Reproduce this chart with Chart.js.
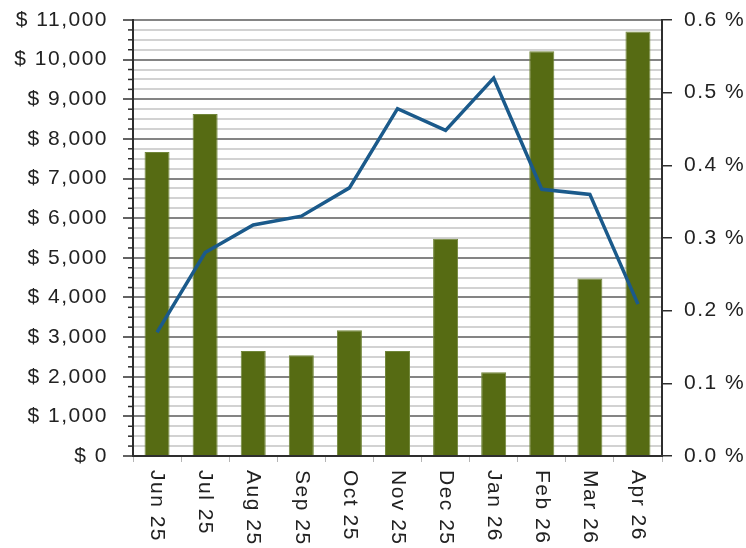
<!DOCTYPE html>
<html lang="en">
<head>
<meta charset="utf-8">
<title>Chart</title>
<script src="https://cdn.jsdelivr.net/npm/chart.js@4"></script>
<style>
  html, body { margin: 0; padding: 0; background: #fff; }
  #chart-wrap { width: 746px; height: 548px; }
</style>
</head>
<body>
<div id="chart-wrap"><canvas id="chart"></canvas></div>
<script>
// 月ラベル
const monthLabels = ['Jun 25', 'Jul 25', 'Aug 25', 'Sep 25', 'Oct 25', 'Nov 25',
  'Dec 25', 'Jan 26', 'Feb 26', 'Mar 26', 'Apr 26'];
// 金額（棒グラフ, $）
const amountValues = [7670, 8630, 2650, 2540, 3170, 2650, 5480, 2110, 10210, 4480, 10710];
// 比率（折れ線, %）
const rateValues = [0.170, 0.280, 0.318, 0.330, 0.369, 0.478, 0.448, 0.520, 0.367, 0.360, 0.209];
// 軸の範囲と目盛
const amountMax = 11000;
const amountMinorStep = 250;
const amountMajorStep = 1000;
const rateMax = 0.6;
const rateStep = 0.1;

(function() {
  'use strict';
  const chartContext = document.getElementById('chart').getContext('2d');
  const fontFamily = "'Liberation Sans', Arial, sans-serif";
  const fontSize = 21;
  const textColor = '#222222';
  const axisColor = '#2e2e2e';
  const letterSpacing = '1.5px';

  function isMajor(value) {
    return value % amountMajorStep === 0;
  }

  // 縦軸の幅を固定し、ラベル分の上下余白を消す
  function fixVerticalAxis(width) {
    return function(scale) {
      scale.width = width;
      scale.paddingTop = 0;
      scale.paddingBottom = 0;
    };
  }

  // 字間を少し広げる
  const spacingPlugin = {
    id: 'letterSpacing',
    beforeUpdate: function(chart) { chart.ctx.letterSpacing = letterSpacing; },
    beforeDraw: function(chart) { chart.ctx.letterSpacing = letterSpacing; }
  };

  // 副目盛の短いヒゲ
  const minorTickPlugin = {
    id: 'minorTicks',
    afterDraw: function(chart) {
      const yScale = chart.scales.y;
      const ctx = chart.ctx;
      const axisX = chart.chartArea.left;
      ctx.save();
      ctx.strokeStyle = axisColor;
      ctx.lineWidth = 1.5;
      yScale.ticks.forEach(function(tick) {
        if (isMajor(tick.value)) {
          return;
        }
        const y = yScale.getPixelForValue(tick.value);
        ctx.beginPath();
        ctx.moveTo(axisX - 5, y);
        ctx.lineTo(axisX, y);
        ctx.stroke();
      });
      ctx.restore();
    }
  };

  // 横軸ラベル（上から下へ読む縦書き）
  const xLabelPlugin = {
    id: 'verticalXLabels',
    afterDraw: function(chart) {
      const xScale = chart.scales.x;
      const ctx = chart.ctx;
      ctx.save();
      ctx.letterSpacing = letterSpacing;
      ctx.font = fontSize + 'px ' + fontFamily;
      ctx.fillStyle = textColor;
      ctx.textAlign = 'left';
      ctx.textBaseline = 'middle';
      monthLabels.forEach(function(label, i) {
        const x = xScale.getPixelForValue(i);
        ctx.save();
        ctx.translate(x, xScale.top + 14);
        ctx.rotate(Math.PI / 2);
        ctx.fillText(label, 0, 0);
        ctx.restore();
      });
      ctx.restore();
    }
  };

  new Chart(chartContext, {
    type: 'bar',
    data: {
      labels: monthLabels,
      datasets: [{
        type: 'line',
        data: rateValues,
        yAxisID: 'y1',
        borderColor: '#1b5a8b',
        borderWidth: 3.5,
        pointRadius: 0,
        tension: 0,
        order: 0
      }, {
        type: 'bar',
        data: amountValues,
        yAxisID: 'y',
        backgroundColor: '#566b13',
        borderColor: '#71863a',
        borderWidth: 1,
        categoryPercentage: 1,
        barPercentage: 0.52,
        order: 1
      }]
    },
    options: {
      responsive: true,
      maintainAspectRatio: false,
      animation: false,
      layout: { padding: { top: 20, left: 0, right: 0, bottom: 0 } },
      plugins: {
        legend: { display: false },
        tooltip: { enabled: false }
      },
      scales: {
        x: {
          ticks: { display: false },
          grid: {
            drawOnChartArea: false,
            drawTicks: true,
            tickLength: 6,
            color: '#b5b5b5',
            offset: true
          },
          border: { color: axisColor, width: 2 },
          afterFit: function(scale) { scale.height = 92; }
        },
        y: {
          position: 'left',
          min: 0,
          max: amountMax,
          ticks: {
            stepSize: amountMinorStep,
            autoSkip: false,
            padding: 15,
            color: textColor,
            font: { family: fontFamily, size: fontSize },
            callback: function(value) {
              return isMajor(value) ? '$ ' + value.toLocaleString('en-US') : '';
            }
          },
          grid: {
            color: function(ctx) { return isMajor(ctx.tick.value) ? '#848484' : '#d2d2d2'; },
            lineWidth: 2,
            tickLength: 10,
            tickWidth: 1.5,
            tickColor: function(ctx) { return isMajor(ctx.tick.value) ? axisColor : 'rgba(0,0,0,0)'; }
          },
          border: { color: axisColor, width: 2 },
          afterFit: fixVerticalAxis(133)
        },
        y1: {
          position: 'right',
          min: 0,
          max: rateMax,
          ticks: {
            stepSize: rateStep,
            padding: 12,
            color: textColor,
            font: { family: fontFamily, size: fontSize },
            callback: function(value) { return value.toFixed(1) + ' %'; }
          },
          grid: {
            drawOnChartArea: false,
            tickLength: 10,
            color: axisColor,
            lineWidth: 1.5
          },
          border: { color: axisColor, width: 2 },
          afterFit: fixVerticalAxis(84)
        }
      }
    },
    plugins: [spacingPlugin, minorTickPlugin, xLabelPlugin]
  });
})();
</script>
</body>
</html>
